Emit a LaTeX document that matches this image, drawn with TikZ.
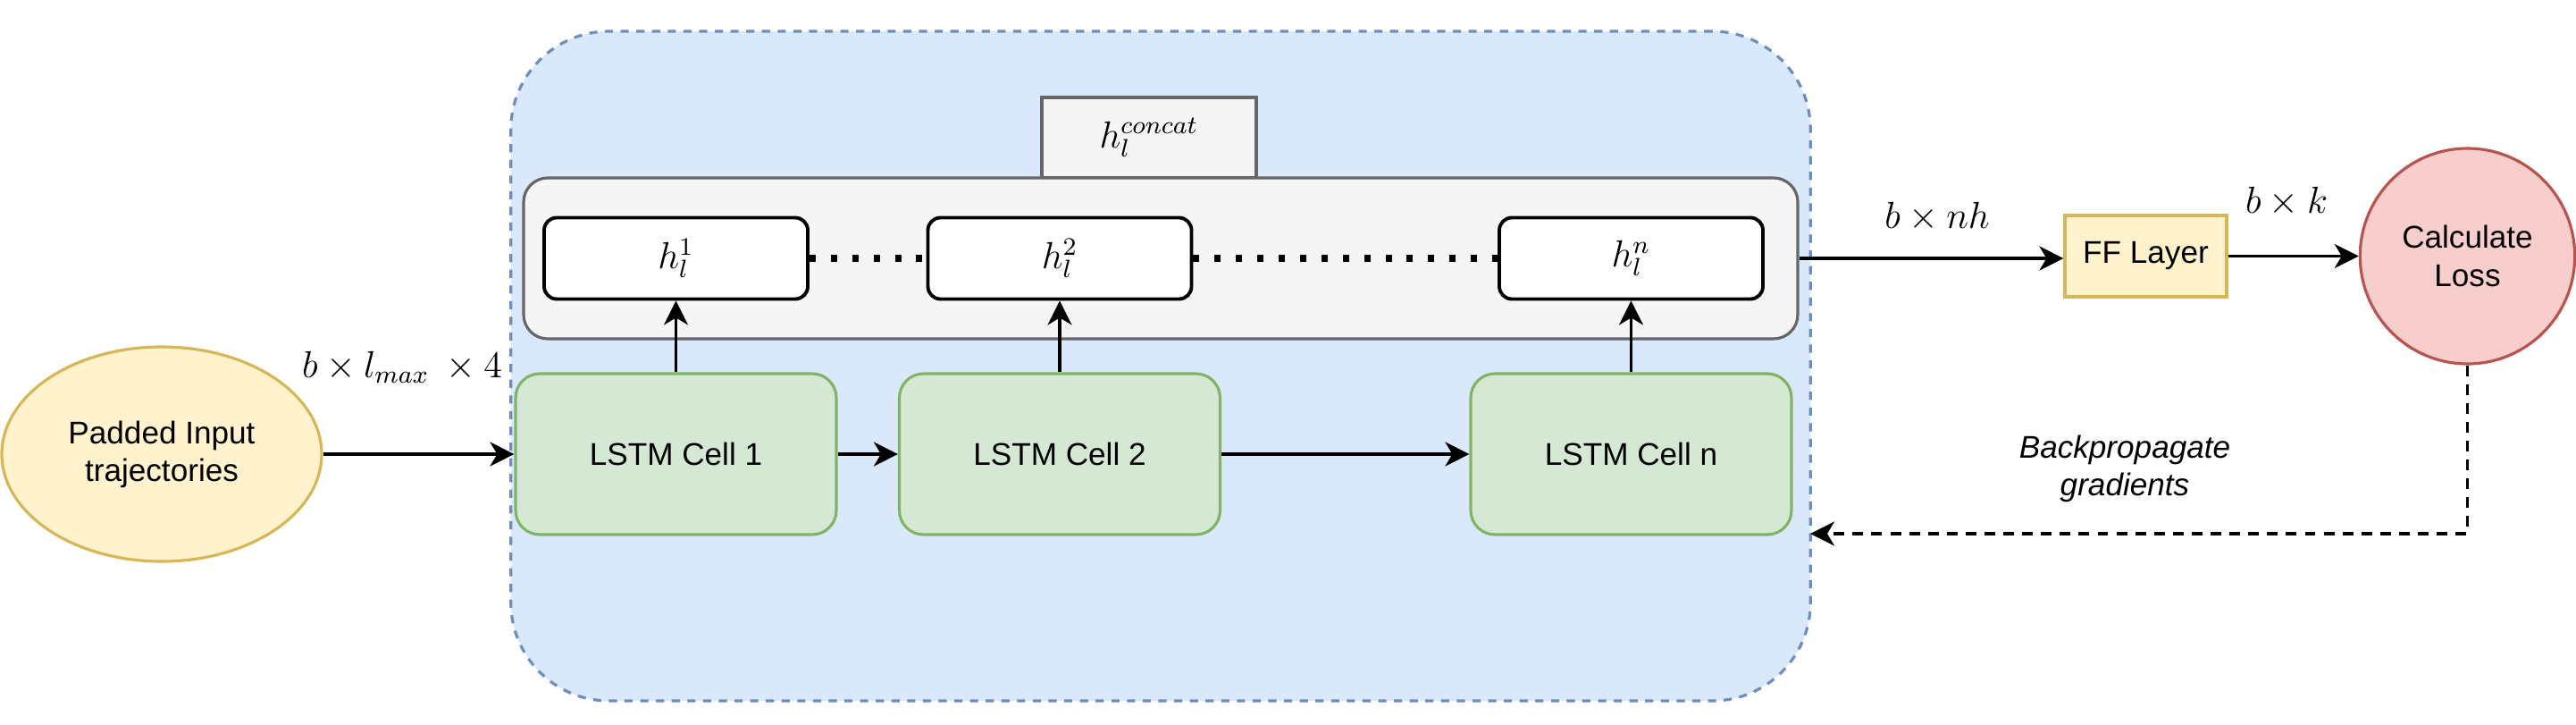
\documentclass[tikz,border=0pt]{standalone}
\usepackage{fontspec}
\setsansfont{Liberation Sans}
\usetikzlibrary{arrows.meta,shapes.geometric}

\definecolor{bluefill}{HTML}{DAE8FC}
\definecolor{bluedraw}{HTML}{6C8EBF}
\definecolor{grayfill}{HTML}{F5F5F5}
\definecolor{graydraw}{HTML}{666666}
\definecolor{greenfill}{HTML}{D5E8D4}
\definecolor{greendraw}{HTML}{82B366}
\definecolor{yellowfill}{HTML}{FFF2CC}
\definecolor{yellowdraw}{HTML}{D6B656}
\definecolor{redfill}{HTML}{F8CECC}
\definecolor{reddraw}{HTML}{B85450}

\begin{document}
\begin{tikzpicture}[
  font=\sffamily,
  lstmcell/.style={draw=greendraw, fill=greenfill, line width=0.9pt, rounded corners=0.27cm,
    minimum width=3.59cm, minimum height=1.80cm},
  hstate/.style={draw=black, fill=white, line width=1.1pt, rounded corners=0.14cm,
    minimum width=2.95cm, minimum height=0.91cm, font=\large},
  flow/.style={-{Stealth[length=2.7mm,width=2.7mm,inset=0.8mm]}, line width=0.9pt},
  dimlbl/.style={font=\large},
]
  \useasboundingbox (0,0) rectangle (28.83,8.10);

  % Conteneur LSTM
  \node[draw=bluedraw, fill=bluefill, line width=0.9pt, dash pattern=on 2.6pt off 2.4pt,
    rounded corners=1.1cm, minimum width=14.545cm, minimum height=7.49cm] (lstmbox) at (12.99,4.005) {};

  % Concatenation des etats caches
  \node[draw=graydraw, fill=grayfill, line width=0.9pt, minimum width=2.40cm, minimum height=0.90cm,
    font=\large] (concat) at (12.86,6.56) {$h_l^{concat}$};
  \node[draw=graydraw, fill=grayfill, line width=0.9pt, rounded corners=0.27cm,
    minimum width=14.26cm, minimum height=1.80cm] (hcat) at (12.99,5.21) {};

  % Cellules LSTM et etats caches
  \foreach \x/\id in {7.565/1, 11.86/2, 18.255/n}{
    \node[lstmcell] (cell\id) at (\x,3.02) {LSTM Cell \id};
    \node[hstate] (h\id) at (\x,5.21) {$h_l^{\id}$};
    \draw[flow] (cell\id) -- (h\id);
  }
  \draw[flow] (cell1) -- (cell2);
  \draw[flow] (cell2) -- (celln);
  \foreach \a/\b in {1/2, 2/n}
    \draw[line width=2pt, dash pattern=on 2pt off 4.8pt] (h\a) -- (h\b);

  % Entree
  \node[ellipse, draw=yellowdraw, fill=yellowfill, line width=0.9pt, minimum width=3.58cm,
    minimum height=2.40cm, align=center] (input) at (1.81,3.02) {Padded Input\\trajectories};
  \draw[flow] (input) -- (cell1);
  \node[dimlbl] (inlbl) at (4.50,3.99) {$b \times l_{max}\: \times 4$};

  % Sortie
  \node[draw=yellowdraw, fill=yellowfill, line width=0.9pt, minimum width=1.81cm,
    minimum height=0.91cm] (ff) at (24.015,5.235) {FF Layer};
  \node[ellipse, draw=reddraw, fill=redfill, line width=0.9pt, minimum width=2.39cm,
    minimum height=2.41cm, align=center] (loss) at (27.615,5.235) {Calculate\\Loss};
  \draw[flow] (hcat.east) -- (hcat.east -| ff.west);
  \draw[flow] (ff) -- (loss);
  \node[dimlbl] (nhlbl) at (21.68,5.67) {$b \times nh$};
  \node[dimlbl] (klbl) at (25.59,5.84) {$b \times k$};

  % Retropropagation
  \coordinate (backend) at (20.26,2.13);
  \draw[flow, line width=1pt, dash pattern=on 3.4pt off 2.6pt] (loss.south) |- (backend);
  \node[font=\sffamily\itshape, align=center] (backlbl) at (23.78,2.86) {Backpropagate\\gradients};

\end{tikzpicture}
\end{document}
